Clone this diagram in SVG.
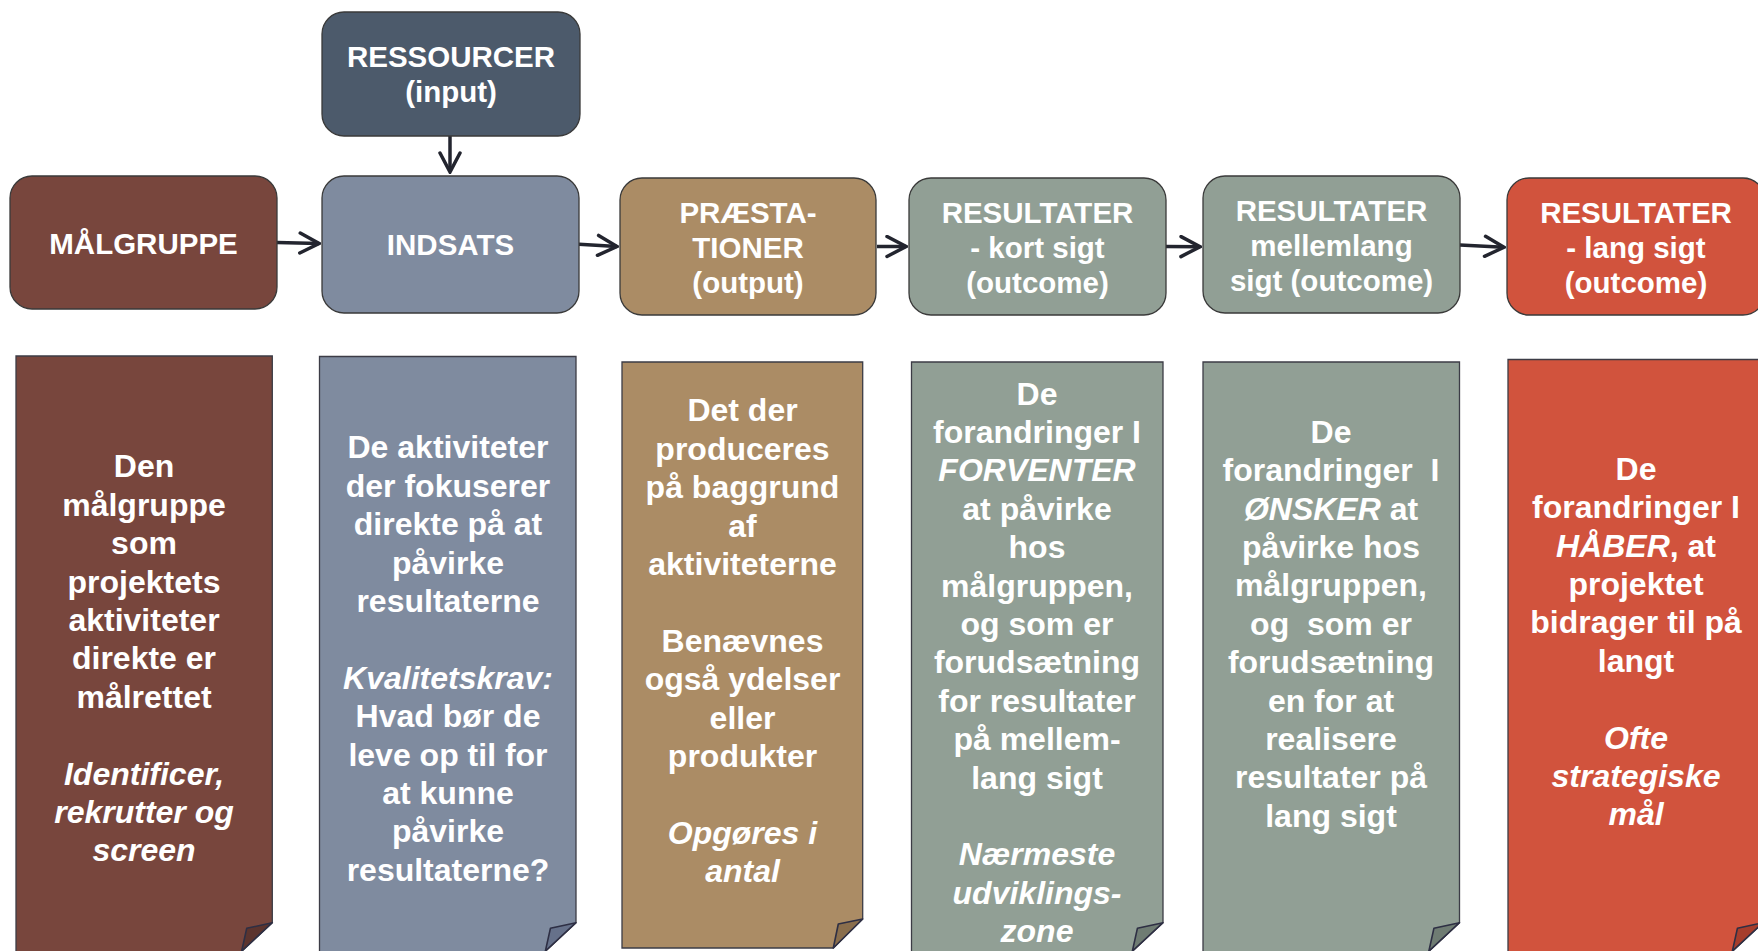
<svg xmlns="http://www.w3.org/2000/svg" width="1758" height="951" viewBox="0 0 1758 951">
<defs>
<style>
.box{stroke:#3a3a3a;stroke-width:1.3}
.page{stroke:#3c3c46;stroke-width:1.3}
.fold{stroke:#2e2f44;stroke-width:1.6;stroke-linejoin:round}
text{font-family:"Liberation Sans",Arial,sans-serif;font-weight:bold;fill:#ffffff;text-anchor:middle}
.lbl{font-size:29.5px}
.body{font-size:32px}
.it{font-style:italic}
.conn{stroke:#23252f;stroke-width:3.5;fill:none;marker-end:url(#arr)}
</style>
<marker id="arr" markerUnits="userSpaceOnUse" viewBox="-22 -12 24 24" refX="0" refY="0" markerWidth="24" markerHeight="24" orient="auto">
<path d="M-19,-10 L0,0 L-19,10" fill="none" stroke="#23252f" stroke-width="3.5" stroke-linecap="round" stroke-linejoin="miter"/>
</marker>
</defs>
<rect width="1758" height="951" fill="#ffffff"/>

<g id="connectors">
<path class="conn" d="M450,136 V172"/>
<path class="conn" d="M277,242.5 L319,243.5"/>
<path class="conn" d="M579,244.3 L617,246.5"/>
<path class="conn" d="M877,246.5 L906,246.5"/>
<path class="conn" d="M1166,246.5 L1200,246.7"/>
<path class="conn" d="M1460,245 L1504,247.3"/>
</g>

<g id="ressourcer">
<rect class="box" x="322" y="12" width="258" height="124" rx="22" fill="#4c5a6b"/>
<text class="lbl"><tspan x="451" y="66.5">RESSOURCER</tspan><tspan x="451" y="101.5">(input)</tspan></text>
</g>
<g id="malgruppe">
<rect class="box" x="10" y="176" width="267" height="133" rx="22" fill="#78463d"/>
<text class="lbl" x="143.5" y="253.5">MÅLGRUPPE</text>
</g>
<g id="indsats">
<rect class="box" x="322" y="176" width="257" height="137" rx="22" fill="#7f8b9f"/>
<text class="lbl" x="450.5" y="255">INDSATS</text>
</g>
<g id="praestationer">
<rect class="box" x="620" y="178" width="256" height="137" rx="22" fill="#ab8c65"/>
<text class="lbl"><tspan x="748" y="222.5">PRÆSTA-</tspan><tspan x="748" y="258">TIONER</tspan><tspan x="748" y="293">(output)</tspan></text>
</g>
<g id="resultater-kort">
<rect class="box" x="909" y="178" width="257" height="137" rx="22" fill="#919f95"/>
<text class="lbl"><tspan x="1037.5" y="222.5">RESULTATER</tspan><tspan x="1037.5" y="258">- kort sigt</tspan><tspan x="1037.5" y="293">(outcome)</tspan></text>
</g>
<g id="resultater-mellem">
<rect class="box" x="1203" y="176" width="257" height="137" rx="22" fill="#919f95"/>
<text class="lbl"><tspan x="1331.5" y="221">RESULTATER</tspan><tspan x="1331.5" y="256">mellemlang</tspan><tspan x="1331.5" y="291">sigt (outcome)</tspan></text>
</g>
<g id="resultater-lang">
<rect class="box" x="1507" y="178" width="258" height="137" rx="22" fill="#d1533d"/>
<text class="lbl"><tspan x="1636" y="222.5">RESULTATER</tspan><tspan x="1636" y="258">- lang sigt</tspan><tspan x="1636" y="293">(outcome)</tspan></text>
</g>

<g id="desc-malgruppe">
<path class="page" d="M16,356 H272.3 V922.7 L240,953 H16 Z" fill="#78463d"/>
<path class="fold" d="M272.3,922.7 L246.7,928.3 L241.7,951 Z" fill="#5c342e"/>
<text class="body"><tspan x="144" y="477.4">Den</tspan><tspan x="144" y="515.8">målgruppe</tspan><tspan x="144" y="554.2">som</tspan><tspan x="144" y="592.6">projektets</tspan><tspan x="144" y="631">aktiviteter</tspan><tspan x="144" y="669.4">direkte er</tspan><tspan x="144" y="707.8">målrettet</tspan><tspan class="it" x="144" y="784.6">Identificer,</tspan><tspan class="it" x="144" y="823">rekrutter og</tspan><tspan class="it" x="144" y="861.4">screen</tspan></text>
</g>

<g id="desc-indsats">
<path class="page" d="M319.5,356.5 H576 V922.7 L543.7,953 H319.5 Z" fill="#7f8b9f"/>
<path class="fold" d="M576,922.7 L550.4,928.3 L545.4,951 Z" fill="#66718a"/>
<text class="body"><tspan x="448" y="458.4">De aktiviteter</tspan><tspan x="448" y="496.8">der fokuserer</tspan><tspan x="448" y="535.2">direkte på at</tspan><tspan x="448" y="573.6">påvirke</tspan><tspan x="448" y="612">resultaterne</tspan><tspan class="it" x="448" y="688.8">Kvalitetskrav:</tspan><tspan x="448" y="727.2">Hvad bør de</tspan><tspan x="448" y="765.6">leve op til for</tspan><tspan x="448" y="804">at kunne</tspan><tspan x="448" y="842.4">påvirke</tspan><tspan x="448" y="880.8">resultaterne?</tspan></text>
</g>

<g id="desc-praestationer">
<path class="page" d="M622,362 H862.7 V919 L833.3,948 H622 Z" fill="#ab8c65"/>
<path class="fold" d="M862.7,919 L838.3,924 L833.3,948 Z" fill="#8a6e4c"/>
<text class="body"><tspan x="742.5" y="421.4">Det der</tspan><tspan x="742.5" y="459.8">produceres</tspan><tspan x="742.5" y="498.2">på baggrund</tspan><tspan x="742.5" y="536.6">af</tspan><tspan x="742.5" y="575">aktiviteterne</tspan><tspan x="742.5" y="651.8">Benævnes</tspan><tspan x="742.5" y="690.2">også ydelser</tspan><tspan x="742.5" y="728.6">eller</tspan><tspan x="742.5" y="767">produkter</tspan><tspan class="it" x="742.5" y="843.8">Opgøres i</tspan><tspan class="it" x="742.5" y="882.2">antal</tspan></text>
</g>

<g id="desc-kort">
<path class="page" d="M911.5,362 H1163 V922.7 L1130.7,953 H911.5 Z" fill="#919f95"/>
<path class="fold" d="M1163,922.7 L1137.4,928.3 L1132.4,951 Z" fill="#6f7c73"/>
<text class="body"><tspan x="1037" y="404.5">De</tspan><tspan x="1037" y="442.9">forandringer I</tspan><tspan class="it" x="1037" y="481.3">FORVENTER</tspan><tspan x="1037" y="519.7">at påvirke</tspan><tspan x="1037" y="558.1">hos</tspan><tspan x="1037" y="596.5">målgruppen,</tspan><tspan x="1037" y="634.9">og som er</tspan><tspan x="1037" y="673.3">forudsætning</tspan><tspan x="1037" y="711.7">for resultater</tspan><tspan x="1037" y="750.1">på mellem-</tspan><tspan x="1037" y="788.5">lang sigt</tspan><tspan class="it" x="1037" y="865.3">Nærmeste</tspan><tspan class="it" x="1037" y="903.7">udviklings-</tspan><tspan class="it" x="1037" y="942.1">zone</tspan></text>
</g>

<g id="desc-mellem">
<path class="page" d="M1203,362 H1459.5 V922.7 L1427.2,953 H1203 Z" fill="#919f95"/>
<path class="fold" d="M1459.5,922.7 L1433.9,928.3 L1428.9,951 Z" fill="#6f7c73"/>
<text class="body" xml:space="preserve"><tspan x="1331" y="442.7">De</tspan><tspan x="1331" y="481.1">forandringer  I</tspan><tspan x="1331" y="519.5"><tspan class="it">ØNSKER</tspan> at</tspan><tspan x="1331" y="557.9">påvirke hos</tspan><tspan x="1331" y="596.3">målgruppen,</tspan><tspan x="1331" y="634.7">og  som er</tspan><tspan x="1331" y="673.1">forudsætning</tspan><tspan x="1331" y="711.5">en for at</tspan><tspan x="1331" y="749.9">realisere</tspan><tspan x="1331" y="788.3">resultater på</tspan><tspan x="1331" y="826.7">lang sigt</tspan></text>
</g>

<g id="desc-lang">
<path class="page" d="M1508,359.5 H1763 V922.7 L1730.7,953 H1508 Z" fill="#d1533d"/>
<path class="fold" d="M1763,922.7 L1737.4,928.3 L1732.4,951 Z" fill="#a63d2c"/>
<text class="body"><tspan x="1636" y="479.7">De</tspan><tspan x="1636" y="518.1">forandringer I</tspan><tspan x="1636" y="556.5"><tspan class="it">HÅBER</tspan>, at</tspan><tspan x="1636" y="594.9">projektet</tspan><tspan x="1636" y="633.3">bidrager til på</tspan><tspan x="1636" y="671.7">langt</tspan><tspan class="it" x="1636" y="748.5">Ofte</tspan><tspan class="it" x="1636" y="786.9">strategiske</tspan><tspan class="it" x="1636" y="825.3">mål</tspan></text>
</g>
</svg>
